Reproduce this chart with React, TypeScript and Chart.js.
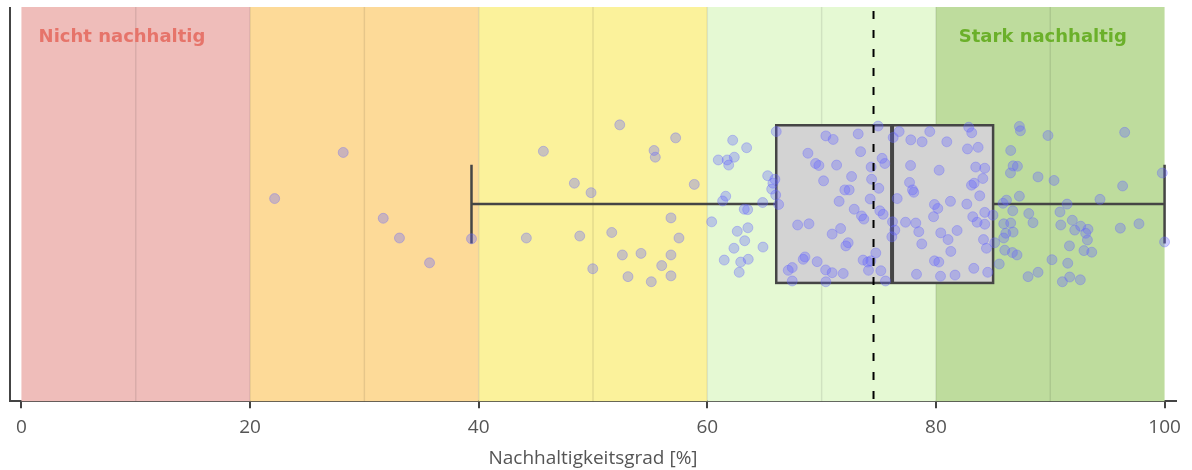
import React, { useEffect, useRef } from "react";
import { Chart, registerables } from "chart.js";

Chart.register(...registerables);

// Nachhaltigkeitsgrad of each observation (x) and its vertical jitter (y, 0..1)
const scores: number[] = [
  22.15, 28.15, 31.65, 33.07, 35.7, 39.37,
  45.66, 48.37, 49.83, 52.34, 55.34, 55.45, 57.23, 58.86, 44.17, 48.84, 51.64, 56.82, 57.52,
  52.57, 54.2, 56.82, 56.01, 49.98, 53.06, 55.1, 56.82,
  62.22, 63.44, 60.96, 61.74, 62.36, 61.87, 66.03, 65.28, 65.91, 65.74, 65.63, 65.98, 61.61,
  61.34, 64.84, 66.24, 63.23, 63.53, 60.38, 67.9, 63.55, 62.62, 63.27, 62.33, 64.87, 61.48,
  62.92, 63.58, 62.79, 67.08, 67.43, 67.43,
  70.37, 71.01, 73.2, 74.94, 76.26, 68.8, 73.41, 69.47, 69.76, 71.31, 74.33, 75.29, 75.53,
  72.62, 70.17, 74.37, 72.03, 72.41, 75.0, 71.53, 74.25, 72.85, 73.49, 73.69, 75.09, 75.38,
  68.89, 71.66, 70.92, 72.32, 72.12, 68.54, 68.39, 69.61, 73.63, 74.31, 74.74, 70.35, 70.92,
  71.89, 74.1, 75.18, 70.37, 75.59, 74.04,
  76.78, 76.2, 76.4, 76.14,
  77.8, 78.79, 79.46, 80.95, 82.87, 83.13, 82.76, 83.69, 77.78, 80.28, 83.48, 84.27, 77.69,
  77.95, 78.06, 76.61, 83.11, 83.34, 84.1, 83.83, 79.87, 80.16, 81.27, 82.7, 79.79, 77.34,
  78.24, 78.5, 80.42, 81.85, 81.06, 83.22, 83.6, 84.27, 84.27, 78.76, 81.3, 84.16, 84.42,
  79.87, 80.25, 83.31, 78.3, 80.4, 81.67, 84.53,
  84.99, 85.14, 85.54, 87.3, 87.39, 89.8, 86.54, 86.75, 87.13, 86.52, 88.93, 90.33, 87.3,
  86.17, 85.87, 86.72, 88.12, 91.47, 90.85, 88.49, 85.93, 86.54, 86.75, 86.11, 90.92, 91.93,
  92.14, 85.93, 86.02, 86.69, 87.09, 91.68, 90.15, 91.53, 88.93, 88.06, 91.7, 91.06,
  96.51, 99.8, 96.33, 94.35, 97.76, 96.13, 92.66, 93.3, 93.1, 93.25, 92.95, 93.63, 92.63, 100.0,
];

const jitter: number[] = [
  0.514, 0.631, 0.464, 0.414, 0.351, 0.412,
  0.634, 0.553, 0.529, 0.701, 0.636, 0.619, 0.668, 0.55, 0.414, 0.419, 0.428, 0.465, 0.414,
  0.371, 0.375, 0.371, 0.344, 0.336, 0.316, 0.303, 0.318,
  0.662, 0.643, 0.612, 0.612, 0.619, 0.599, 0.684, 0.572, 0.563, 0.553, 0.538, 0.523, 0.52,
  0.508, 0.504, 0.499, 0.487, 0.486, 0.455, 0.447, 0.44, 0.431, 0.407, 0.388, 0.391, 0.358,
  0.353, 0.36, 0.327, 0.332, 0.339, 0.305,
  0.673, 0.664, 0.678, 0.698, 0.669, 0.629, 0.633, 0.603, 0.598, 0.599, 0.594, 0.616, 0.603,
  0.57, 0.559, 0.563, 0.536, 0.536, 0.54, 0.507, 0.513, 0.487, 0.47, 0.462, 0.483, 0.474,
  0.45, 0.438, 0.424, 0.402, 0.394, 0.366, 0.36, 0.354, 0.358, 0.356, 0.376, 0.333, 0.326,
  0.324, 0.332, 0.331, 0.303, 0.305, 0.353,
  0.684, 0.455, 0.434, 0.417,
  0.663, 0.658, 0.684, 0.658, 0.695, 0.681, 0.64, 0.644, 0.598, 0.586, 0.594, 0.591, 0.555,
  0.536, 0.53, 0.514, 0.548, 0.553, 0.565, 0.521, 0.499, 0.489, 0.507, 0.5, 0.468, 0.454,
  0.452, 0.43, 0.427, 0.433, 0.41, 0.468, 0.454, 0.479, 0.449, 0.399, 0.38, 0.41, 0.388,
  0.356, 0.353, 0.337, 0.322, 0.317, 0.32, 0.327,
  0.472, 0.402, 0.348, 0.697, 0.686, 0.674, 0.636, 0.597, 0.596, 0.579, 0.569, 0.56, 0.52,
  0.51, 0.502, 0.483, 0.476, 0.5, 0.48, 0.453, 0.45, 0.452, 0.429, 0.426, 0.447, 0.459,
  0.434, 0.414, 0.383, 0.377, 0.371, 0.394, 0.359, 0.35, 0.327, 0.316, 0.315, 0.303,
  0.682, 0.579, 0.546, 0.512, 0.45, 0.439, 0.444, 0.436, 0.426, 0.409, 0.382, 0.378, 0.308, 0.404,
];

// Box plot statistics
const whiskerLow = 39.37;
const quartile1 = 66.03;
const medianValue = 76.16;
const quartile3 = 85.0;
const whiskerHigh = 100;
const meanValue = 74.54;

// Background bands
const bandStarts: number[] = [0, 20, 40, 60, 80];
const bandEnds: number[] = [20, 40, 60, 80, 100];
const bandColors: string[] = ["#efbdba", "#fdda98", "#fbf29b", "#e5f9d3", "#bedc9d"];
const gridValues: number[] = [10, 20, 30, 40, 50, 60, 70, 80, 90];

const xTicks: number[] = [0, 20, 40, 60, 80, 100];

const zoneLabels: string[] = ["Nicht nachhaltig", "Stark nachhaltig"];
const zoneLabelX: number[] = [1.5, 82.0];
const zoneLabelColors: string[] = ["#e6746a", "#6bb02a"];

const axisTitle = "Nachhaltigkeitsgrad [%]";

const FONT = "'Open Sans', 'Noto Sans', sans-serif";

const decorPlugin = {
  id: "decor",
  beforeDatasetsDraw(chart: any) {
    const { ctx, chartArea, scales } = chart;
    const xs = scales.x;
    const ys = scales.y;
    const top = chartArea.top;
    const bottom = chartArea.bottom;
    ctx.save();
    // bands
    bandStarts.forEach((s, i) => {
      const x0 = xs.getPixelForValue(s);
      const x1 = xs.getPixelForValue(bandEnds[i]);
      ctx.fillStyle = bandColors[i];
      ctx.fillRect(x0, top, x1 - x0, bottom - top);
    });
    // grid lines
    ctx.strokeStyle = "rgba(0,0,0,0.09)";
    ctx.lineWidth = 1.5;
    gridValues.forEach((v) => {
      const x = xs.getPixelForValue(v);
      ctx.beginPath();
      ctx.moveTo(x, top);
      ctx.lineTo(x, bottom);
      ctx.stroke();
    });
    // zone labels
    ctx.font = "bold 18px 'DejaVu Sans', sans-serif";
    ctx.textAlign = "left";
    ctx.textBaseline = "alphabetic";
    zoneLabels.forEach((t, i) => {
      ctx.fillStyle = zoneLabelColors[i];
      ctx.fillText(t, xs.getPixelForValue(zoneLabelX[i]), top + 35);
    });
    // left axis line
    ctx.strokeStyle = "#444";
    ctx.lineWidth = 2;
    ctx.beginPath();
    ctx.moveTo(chartArea.left, top);
    ctx.lineTo(chartArea.left, bottom);
    ctx.stroke();

    // box plot
    const yMid = ys.getPixelForValue(0.5);
    const yBoxTop = ys.getPixelForValue(0.7);
    const yBoxBot = ys.getPixelForValue(0.3);
    const yCapTop = ys.getPixelForValue(0.6);
    const yCapBot = ys.getPixelForValue(0.4);
    const xLo = xs.getPixelForValue(whiskerLow);
    const xQ1 = xs.getPixelForValue(quartile1);
    const xMed = xs.getPixelForValue(medianValue);
    const xQ3 = xs.getPixelForValue(quartile3);
    const xHi = xs.getPixelForValue(whiskerHigh);
    ctx.strokeStyle = "#454545";
    ctx.lineWidth = 2.5;
    ctx.beginPath();
    ctx.moveTo(xLo, yMid);
    ctx.lineTo(xQ1, yMid);
    ctx.moveTo(xQ3, yMid);
    ctx.lineTo(xHi, yMid);
    ctx.moveTo(xLo, yCapTop);
    ctx.lineTo(xLo, yCapBot);
    ctx.moveTo(xHi, yCapTop);
    ctx.lineTo(xHi, yCapBot);
    ctx.stroke();
    ctx.fillStyle = "#d3d3d3";
    ctx.fillRect(xQ1, yBoxTop, xQ3 - xQ1, yBoxBot - yBoxTop);
    ctx.strokeRect(xQ1, yBoxTop, xQ3 - xQ1, yBoxBot - yBoxTop);
    ctx.lineWidth = 4;
    ctx.beginPath();
    ctx.moveTo(xMed, yBoxTop);
    ctx.lineTo(xMed, yBoxBot);
    ctx.stroke();
    ctx.restore();
  },
  afterDatasetsDraw(chart: any) {
    const { ctx, chartArea, scales } = chart;
    const x = scales.x.getPixelForValue(meanValue);
    ctx.save();
    ctx.strokeStyle = "#000";
    ctx.lineWidth = 2;
    ctx.setLineDash([8, 11]);
    ctx.beginPath();
    ctx.moveTo(x, chartArea.top + 4);
    ctx.lineTo(x, chartArea.bottom);
    ctx.stroke();
    ctx.restore();
  },
};

export default function App() {
  const canvasRef = useRef<HTMLCanvasElement | null>(null);

  useEffect(() => {
    if (!canvasRef.current) return;
    const points = scores.map((x, i) => ({ x, y: jitter[i] }));
    const chart = new Chart(canvasRef.current, {
      type: "scatter",
      data: {
        datasets: [
          {
            label: "Unternehmen",
            data: points,
            backgroundColor: "rgba(100,100,255,0.33)",
            borderColor: "rgba(100,100,255,0.33)",
            borderWidth: 1,
            pointRadius: 5,
            pointHoverRadius: 5,
          },
        ],
      },
      options: {
        animation: false,
        responsive: false,
        maintainAspectRatio: false,
        layout: { padding: { left: 10, right: 16, top: 7, bottom: 0 } },
        plugins: {
          legend: { display: false },
          tooltip: { enabled: false },
        },
        scales: {
          x: {
            type: "linear",
            min: -1,
            max: 101,
            afterBuildTicks: (scale: any) => {
              scale.ticks = xTicks.map((v) => ({ value: v }));
            },
            grid: {
              display: true,
              drawOnChartArea: false,
              drawTicks: true,
              tickLength: 7,
              color: "#444",
              lineWidth: 2,
            },
            border: { display: true, color: "#444", width: 2 },
            ticks: {
              padding: 10,
              color: "#555",
              font: { family: FONT, size: 19, lineHeight: 1.0 },
            },
            title: {
              display: true,
              text: axisTitle,
              color: "#555",
              font: { family: FONT, size: 19 },
              padding: { top: 0, bottom: 0 },
            },
          },
          y: {
            type: "linear",
            min: 0,
            max: 1,
            display: false,
          },
        },
      },
      plugins: [decorPlugin],
    });
    return () => chart.destroy();
  }, []);

  return (
    <div style={{ position: "absolute", left: 0, top: 0, width: 1192, height: 470, background: "#fff" }}>
      <canvas ref={canvasRef} width={1192} height={470} style={{ width: 1192, height: 470 }} />
    </div>
  );
}
